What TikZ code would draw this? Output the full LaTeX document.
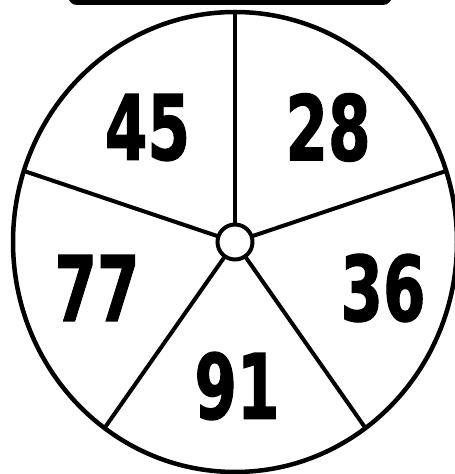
\documentclass[tikz,border=0pt]{standalone}
\usepackage{fontspec}
\newfontfamily\spinfont[FakeBold=1.6]{DejaVu Sans}
\usetikzlibrary{calc}

\begin{document}
\begin{tikzpicture}[
    x=1pt, y=1pt,
    rim/.style={draw=black, line width=4.5pt},
    spoke/.style={draw=black, line width=4pt},
    hubring/.style={circle, draw=black, line width=4pt, fill=white, minimum size=35pt, inner sep=0pt},
    num/.style={inner sep=0pt, font=\spinfont\bfseries\fontsize{90}{90}\selectfont, xscale=0.68, transform shape}
]
    \clip (0,0) rectangle (455,474);
    \fill[white] (0,0) rectangle (455,474);

    % title bar, cut off at the top
    \fill[black, rounded corners=9pt] (68,469) rectangle (392,500);

    \coordinate (mid) at (235,232);
    \draw[rim] (mid) ellipse [x radius=222, y radius=230];

    \foreach \a in {90,162,234,306,378}
        \draw[spoke] (mid) -- ($(mid)+(\a:222 and 230)$);
    \node[hubring] (hub) at (mid) {};

    \node[num] (n45) at (147.5,346.5) {45};
    \node[num] (n28) at (328,346.5) {28};
    \node[num] (n77) at (97,186) {77};
    \node[num] (n36) at (383,186) {36};
    \node[num] (n91) at (237,88) {91};
\end{tikzpicture}
\end{document}
